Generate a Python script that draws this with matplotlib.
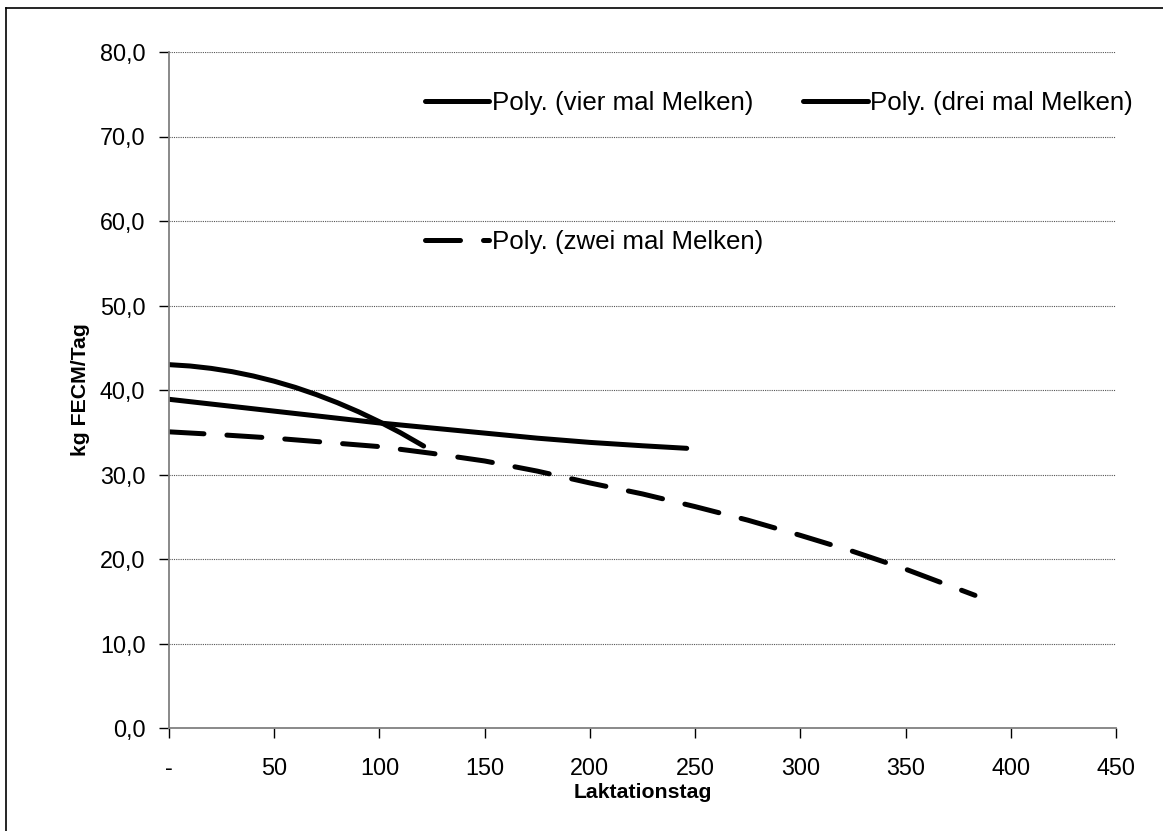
import numpy as np
import matplotlib
matplotlib.use("Agg")
from matplotlib import pyplot as plt
from matplotlib.lines import Line2D
from matplotlib.ticker import FuncFormatter

# Trend values (Laktationstag -> kg FECM/Tag)
vier_tag = [0, 10, 20, 30, 40, 50, 60, 70, 80, 90, 100, 110, 121]
vier_kg = [43.0, 42.84, 42.56, 42.17, 41.66, 41.04, 40.31, 39.46, 38.5,
           37.43, 36.24, 34.94, 33.37]

drei_tag = [0, 25, 50, 75, 100, 125, 150, 175, 200, 225, 246]
drei_kg = [38.9, 38.2, 37.5, 36.8, 36.1, 35.5, 34.9, 34.3, 33.8, 33.4, 33.1]

zwei_tag = [0, 25, 50, 75, 100, 125, 150, 175, 200, 225, 250, 275, 300,
            325, 350, 383]
zwei_kg = [35.05, 34.7, 34.3, 33.8, 33.3, 32.5, 31.6, 30.4, 29.0, 27.7,
           26.2, 24.6, 22.8, 20.9, 18.8, 15.7]

x_ticks = [0, 50, 100, 150, 200, 250, 300, 350, 400, 450]
y_ticks = [0, 10, 20, 30, 40, 50, 60, 70, 80]

plt.rcParams['font.family'] = ['Liberation Sans', 'DejaVu Sans']

fig = plt.figure(figsize=(11.63, 8.31), dpi=100)
# plot area: x 169..1116 px, y 52..728 px
ax = fig.add_axes([169 / 1163, 1 - 728 / 831, 947 / 1163, 676 / 831])

lw = 3.6
h_vier, = ax.plot(vier_tag, vier_kg, color='black', lw=lw,
                  solid_capstyle='round')
h_drei, = ax.plot(drei_tag, drei_kg, color='black', lw=lw,
                  solid_capstyle='round')
h_zwei, = ax.plot(zwei_tag, zwei_kg, color='black', lw=lw,
                  dashes=(7.0, 4.6), dash_capstyle='round')

ax.set_xlim(0, 450)
ax.set_ylim(0, 80)
ax.set_xticks(x_ticks)
ax.set_yticks(y_ticks)
ax.xaxis.set_major_formatter(FuncFormatter(lambda v, p: '-' if v == 0 else '%d' % v))
ax.yaxis.set_major_formatter(FuncFormatter(lambda v, p: ('%.1f' % v).replace('.', ',')))

for yv in y_ticks[1:]:
    ax.axhline(yv, color='#555555', lw=0.8, ls=(0, (1, 1)), zorder=0)

for s in ['top', 'right']:
    ax.spines[s].set_visible(False)
for s in ['left', 'bottom']:
    ax.spines[s].set_color('#808080')
    ax.spines[s].set_linewidth(1.3)

ax.tick_params(axis='both', direction='out', length=7, width=1,
               color='black', labelsize=16.8)
ax.tick_params(axis='x', pad=14)
ax.tick_params(axis='y', pad=10)

ax.set_xlabel('Laktationstag', fontsize=15.3, fontweight='bold', labelpad=2)
ax.set_ylabel('kg FECM/Tag', fontsize=15.3, fontweight='bold', labelpad=7)

leg = ax.legend([h_vier, h_zwei, h_drei],
                ['Poly. (vier mal Melken)', 'Poly. (zwei mal Melken)',
                 'Poly. (drei mal Melken)'],
                ncol=2, loc='upper left', bbox_to_anchor=(0.270, 0.9416),
                frameon=False, fontsize=18.6, handlelength=2.5,
                handletextpad=0.1, labelspacing=4.45, columnspacing=1.55,
                borderpad=0, borderaxespad=0)

# outer chart border (left and top visible)
fig.add_artist(Line2D([6 / 1163, 6 / 1163], [0, 1 - 8 / 831],
                      color='black', lw=1.2, transform=fig.transFigure))
fig.add_artist(Line2D([6 / 1163, 1], [1 - 8 / 831, 1 - 8 / 831],
                      color='black', lw=1.2, transform=fig.transFigure))

fig.savefig('out.png', dpi=100)
